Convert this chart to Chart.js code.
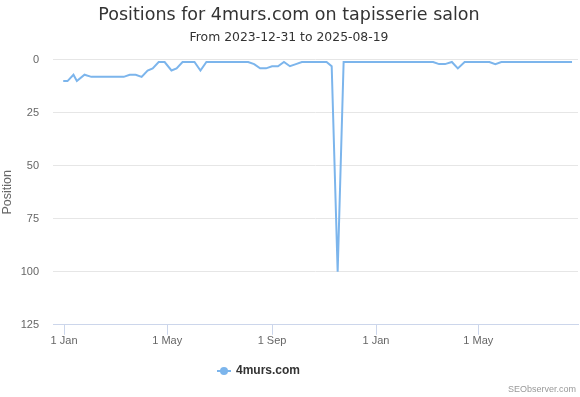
<!DOCTYPE html>
<html>
<head>
<meta charset="utf-8">
<script src="https://cdn.jsdelivr.net/npm/chart.js@4"></script>
<style>
  html, body { margin: 0; padding: 0; background: #fff; }
  #wrap { width: 580px; height: 397px; position: relative; }
</style>
</head>
<body>
<div id="wrap"><canvas id="posChart"></canvas></div>
<script>
// positions for 4murs.com on "tapisserie salon"
const dates = [
  "2023-12-31", "2024-01-05", "2024-01-12", "2024-01-16", "2024-01-25", "2024-02-02",
  "2024-03-11", "2024-03-18", "2024-03-25", "2024-04-01", "2024-04-08", "2024-04-14",
  "2024-04-21", "2024-04-28", "2024-05-06", "2024-05-12", "2024-05-19", "2024-06-02",
  "2024-06-09", "2024-06-16", "2024-08-04", "2024-08-11", "2024-08-18", "2024-08-25",
  "2024-09-01", "2024-09-08", "2024-09-15", "2024-09-22", "2024-09-29", "2024-10-06",
  "2024-11-04", "2024-11-10", "2024-11-17", "2024-11-24", "2025-03-09", "2025-03-16",
  "2025-03-23", "2025-03-31", "2025-04-07", "2025-04-15", "2025-05-14", "2025-05-21",
  "2025-05-28", "2025-08-19"
];
const positions = [
  10, 10, 7, 10, 7, 8,
  8, 7, 7, 8, 5, 4,
  1, 1, 5, 4, 1, 1,
  5, 1, 1, 2, 4, 4,
  3, 3, 1, 3, 2, 1,
  1, 3, 100, 1, 1, 2,
  2, 1, 4, 1, 1, 2,
  1, 1
];
const tickDates  = ["2024-01-01", "2024-05-01", "2024-09-01", "2025-01-01", "2025-05-01"];
const tickLabels = ["1 Jan", "1 May", "1 Sep", "1 Jan", "1 May"];
const yTicks     = [0, 25, 50, 75, 100, 125];

const DAY = 86400000;
const origin = Date.parse("2024-01-01");
const toDay = s => (Date.parse(s) - origin) / DAY;

const FONT = "'Liberation Sans', Arial, sans-serif";
const HEAD = "'DejaVu Sans', Verdana, sans-serif";
const blue = "#7cb5ec";

// legend symbol: short line with a dot
const icon = document.createElement("canvas");
icon.width = 14; icon.height = 10;
(() => {
  const c = icon.getContext("2d");
  c.strokeStyle = blue; c.lineWidth = 2;
  c.beginPath(); c.moveTo(0, 5); c.lineTo(14, 5); c.stroke();
  c.fillStyle = blue;
  c.beginPath(); c.arc(7, 5, 4, 0, Math.PI * 2); c.fill();
})();

const credit = {
  id: "credit",
  afterLayout(ch) {
    // legend sits a bit left of centre in the original
    ch.legend.left -= 30;
    ch.legend.right -= 30;
  },
  afterDraw(ch) {
    const c = ch.ctx;
    c.save();
    c.font = "9px " + FONT;
    c.fillStyle = "#999";
    c.textAlign = "right";
    c.textBaseline = "middle";
    c.fillText("SEObserver.com", 576, 390);
    c.restore();
  }
};

new Chart(document.getElementById("posChart"), {
  type: "line",
  data: {
    datasets: [{
      label: "4murs.com",
      data: dates.map((d, i) => ({ x: toDay(d), y: positions[i] })),
      borderColor: blue,
      backgroundColor: blue,
      borderWidth: 2,
      pointRadius: 0,
      tension: 0
    }]
  },
  options: {
    responsive: true,
    maintainAspectRatio: false,
    animation: false,
    layout: { padding: { left: 0, right: 2, bottom: 10 } },
    plugins: {
      title: {
        display: true,
        text: "Positions for 4murs.com on tapisserie salon",
        color: "#333",
        font: { family: HEAD, size: 17.5, weight: "normal" },
        padding: { top: 5, bottom: 4 }
      },
      subtitle: {
        display: true,
        text: "From 2023-12-31 to 2025-08-19",
        color: "#333",
        font: { family: HEAD, size: 12.4 },
        padding: { top: 0, bottom: 15 }
      },
      legend: {
        position: "bottom",
        labels: {
          usePointStyle: true,
          pointStyle: icon,
          color: "#333",
          font: { family: FONT, size: 12, weight: "bold" },
          padding: 17
        }
      },
      tooltip: { enabled: false }
    },
    scales: {
      x: {
        type: "linear",
        min: toDay("2023-12-19"),
        max: toDay("2023-12-19") + 616,
        afterBuildTicks: s => { s.ticks = tickDates.map(d => ({ value: toDay(d) })); },
        ticks: {
          callback: (v, i) => tickLabels[i],
          color: "#666",
          font: { family: FONT, size: 11 },
          maxRotation: 0,
          padding: 0
        },
        grid: { drawOnChartArea: false, tickLength: 10, color: "#ccd6eb" },
        border: { color: "#ccd6eb" }
      },
      y: {
        reverse: true,
        min: 0,
        max: 125,
        afterBuildTicks: s => { s.ticks = yTicks.map(v => ({ value: v })); },
        afterFit: s => { s.width = 53; },
        ticks: {
          color: "#666",
          font: { family: FONT, size: 11 },
          padding: 14
        },
        grid: { color: "#e6e6e6", drawTicks: false },
        border: { display: false },
        title: {
          display: true,
          text: "Position",
          color: "#666",
          font: { family: FONT, size: 12.5 },
          padding: 0
        }
      }
    }
  },
  plugins: [credit]
});
</script>
</body>
</html>
